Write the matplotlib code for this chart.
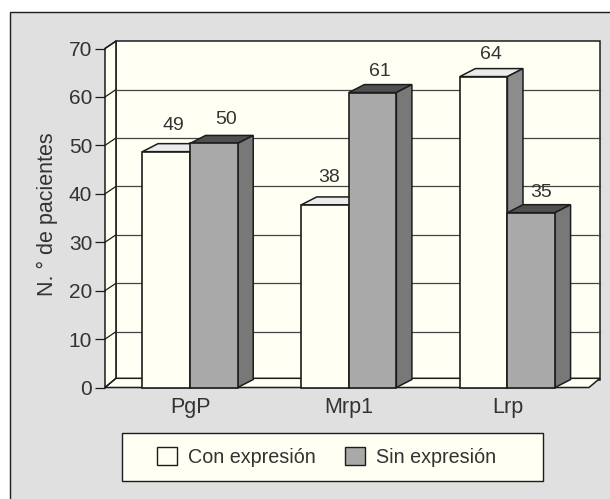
import matplotlib
matplotlib.use("Agg")
import matplotlib.pyplot as plt
from matplotlib.patches import Patch, Polygon, Rectangle

plt.rcParams['font.family'] = 'Liberation Sans'
plt.rcParams['font.size'] = 14

categories = ["PgP", "Mrp1", "Lrp"]
series_names = ["Con expresión", "Sin expresión"]
# printed labels, and the heights the bars are really drawn at
con_labels = [49, 38, 64]
sin_labels = [50, 61, 35]
con_heights = [48.7, 37.7, 64.2]
sin_heights = [50.4, 60.9, 36.1]
y_ticks = [0, 10, 20, 30, 40, 50, 60, 70]

INK = "#1c1c1c"
TEXT = "#333333"
WALL = "#fffff3"
PANEL = "#e0e0e0"
# front, top, side
CON_COLORS = ["#fffff3", "#ebebeb", "#8c8c8c"]
SIN_COLORS = ["#a9a9a9", "#505050", "#787878"]

BAR_W = 0.3
BAR_DX, BAR_DY = 0.098, 1.65   # depth of a bar, in data units
WALL_DX, WALL_DY = 0.069, 1.52  # depth of the back wall
FLOOR_DY = 1.9
XMIN, XMAX = -0.536, 2.514
YMAX = 70
# the labels sit a bit unevenly above the bars (points)
CON_OFFSETS = [(5, 18.5), (3, 20), (5.5, 16)]
SIN_OFFSETS = [(9, 17), (5.5, 15.5), (7, 14.5)]

fig = plt.figure(figsize=(6.10, 4.99), dpi=100, facecolor="white")
fig.patches.append(Rectangle((10 / 610, -0.1), 1.0, 1.1 - 12 / 499, transform=fig.transFigure,
                             facecolor=PANEL, edgecolor=INK, linewidth=1.0, zorder=-2))
fig.patches.append(Rectangle((121.5 / 610, 1 - 481 / 499), 421.5 / 610, 48 / 499, transform=fig.transFigure,
                             facecolor=WALL, edgecolor=INK, linewidth=1.0, zorder=-1))

ax = fig.add_axes([105 / 610, 1 - 387.5 / 499, 484 / 610, 339 / 499])
ax.patch.set_visible(False)
ax.set_xlim(XMIN, XMAX)
ax.set_ylim(0, YMAX)


def poly(points, color, z, lw=1.1):
    ax.add_patch(Polygon(points, closed=True, facecolor=color, edgecolor=INK,
                         linewidth=lw, zorder=z, clip_on=False, joinstyle="miter"))


# walls and floor
bx, by = XMIN + WALL_DX, WALL_DY
poly([(bx, by), (XMAX + WALL_DX, by), (XMAX + WALL_DX, YMAX + by), (bx, YMAX + by)], WALL, 1)
poly([(XMIN, 0), (bx, by), (bx, YMAX + by), (XMIN, YMAX)], WALL, 1)
poly([(XMIN, 0), (XMAX, 0), (XMAX + WALL_DX, FLOOR_DY), (bx, FLOOR_DY)], WALL, 1.5)

for v in y_ticks[1:-1]:
    ax.plot([bx, XMAX + WALL_DX], [v + by, v + by], color="#444444", lw=0.9, zorder=2, clip_on=False)
for v in y_ticks:
    ax.plot([XMIN, bx], [v, v + by if v else FLOOR_DY], color=INK, lw=0.9, zorder=2, clip_on=False)


def bar3d(x0, h, colors, z):
    x1 = x0 + BAR_W
    poly([(x0, h), (x1, h), (x1 + BAR_DX, h + BAR_DY), (x0 + BAR_DX, h + BAR_DY)], colors[1], z)
    poly([(x1, 0), (x1 + BAR_DX, BAR_DY), (x1 + BAR_DX, h + BAR_DY), (x1, h)], colors[2], z)
    ax.add_patch(Rectangle((x0, 0), BAR_W, h, facecolor=colors[0], edgecolor=INK,
                           linewidth=1.2, zorder=z + 0.1, clip_on=False))


for i in range(len(categories)):
    bar3d(i - BAR_W, con_heights[i], CON_COLORS, 3 + i)
    bar3d(i, sin_heights[i], SIN_COLORS, 3.5 + i)
    ax.annotate(str(con_labels[i]), (i - BAR_W / 2, con_heights[i]), xytext=CON_OFFSETS[i],
                textcoords="offset points", ha="center", va="center", fontsize=14,
                color=TEXT, zorder=10)
    ax.annotate(str(sin_labels[i]), (i + BAR_W / 2, sin_heights[i]), xytext=SIN_OFFSETS[i],
                textcoords="offset points", ha="center", va="center", fontsize=14,
                color=TEXT, zorder=10)

for side in ["top", "right", "bottom", "left"]:
    ax.spines[side].set_visible(False)
ax.set_yticks(y_ticks)
ax.set_xticks(range(len(categories)), categories)
ax.tick_params(axis="y", length=7.2, width=0.9, pad=2, colors=TEXT, color=INK, labelsize=15)
ax.tick_params(axis="x", length=0, pad=7, colors=TEXT, labelsize=15.5)
ax.set_ylabel("N. ° de pacientes", fontsize=15.5, color=TEXT, labelpad=7.5, y=0.51)

handles = [Patch(facecolor=CON_COLORS[0], edgecolor=INK, linewidth=1.0),
           Patch(facecolor=SIN_COLORS[0], edgecolor=INK, linewidth=1.0)]
leg = fig.legend(handles, series_names, ncol=2, loc="center",
                 bbox_to_anchor=(326.5 / 610, 1 - 457 / 499), frameon=False,
                 fontsize=14.2, labelcolor=TEXT,
                 handlelength=1.02, handleheight=1.02, handletextpad=0.55,
                 columnspacing=1.5, borderpad=0, borderaxespad=0)

fig.savefig("out.png", dpi=100)
